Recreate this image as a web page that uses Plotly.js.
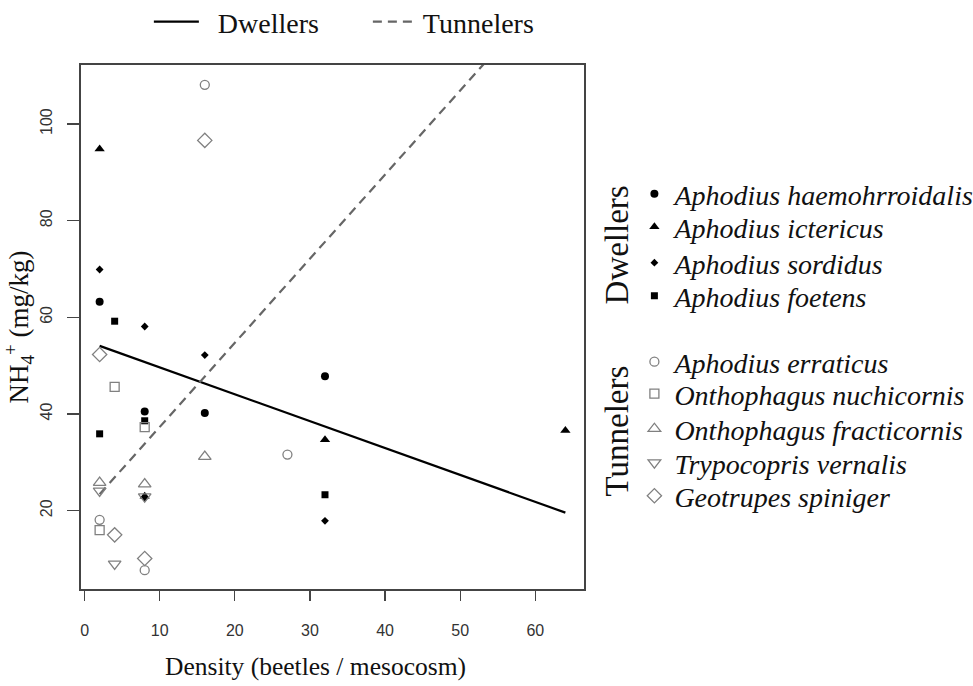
<!DOCTYPE html>
<html>
<head>
<meta charset="utf-8">
<script src="https://cdn.plot.ly/plotly-3.0.1.min.js"></script>
<style>html,body{margin:0;padding:0;background:#fff;}</style>
</head>
<body>
<div id="chart" style="width:973px;height:686px;"></div>
<script>
// ---- Data ----
// Dwellers (filled black symbols)
const haemX = [2, 8, 16, 32];
const haemY = [63.2, 40.5, 40.2, 47.8];
const ictX = [2, 8, 32, 64];
const ictY = [94.8, 23.0, 34.7, 36.6];
const sordX = [2, 8, 8, 16, 32];
const sordY = [69.9, 58.1, 22.6, 52.2, 17.9];
const foetX = [2, 4, 8, 32];
const foetY = [35.9, 59.2, 38.6, 23.3];
// Tunnelers (open grey symbols)
const errX = [2, 8, 16, 27];
const errY = [18.1, 7.7, 108.1, 31.6];
const nuchX = [2, 4, 8];
const nuchY = [16.0, 45.6, 37.3];
const fracX = [2, 8, 16];
const fracY = [25.8, 25.5, 31.2];
const vernX = [2, 4, 8];
const vernY = [24.1, 9.0, 22.9];
const spinX = [2, 4, 8, 16];
const spinY = [52.3, 15.0, 10.1, 96.6];
// Regression lines (endpoints)
const dwellLineX = [2, 64];
const dwellLineY = [54.1, 19.6];
const tunnLineX = [2, 64];
const tunnLineY = [23.4, 131.3];

const xTicks = [0, 10, 20, 30, 40, 50, 60];
const yTicks = [20, 40, 60, 80, 100];

const BLACK = '#000000';
const GREY = '#808080';

// legend row centres (px from top) for the species key
const legendRowY = [194, 227, 263, 296, 362, 394, 429, 463, 496];

let legendCount = 1;
function nextLegend() { legendCount += 1; return 'legend' + legendCount; }

function dweller(name, x, y, symbol, size) {
  return {type: 'scatter', mode: 'markers', name: name, x: x, y: y, legend: nextLegend(),
    marker: {symbol: symbol, size: size, color: BLACK, line: {width: 0}}, cliponaxis: false};
}
function tunneler(name, x, y, symbol, size) {
  return {type: 'scatter', mode: 'markers', name: name, x: x, y: y, legend: nextLegend(),
    marker: {symbol: symbol, size: size, color: GREY, line: {width: 1.3, color: GREY}}, cliponaxis: false};
}

const traces = [
  {type: 'scatter', mode: 'lines', name: '\u00a0\u00a0Dwellers', x: dwellLineX, y: dwellLineY, legend: 'legend',
    line: {color: '#000', width: 2.2}},
  {type: 'scatter', mode: 'lines', name: 'Tunnelers', x: tunnLineX, y: tunnLineY, legend: 'legend',
    line: {color: '#666', width: 2.2, dash: '9px,6px'}},
  dweller('Aphodius haemohrroidalis', haemX, haemY, 'circle', 8),
  dweller('Aphodius ictericus', ictX, ictY, 'triangle-up', 9),
  dweller('Aphodius sordidus', sordX, sordY, 'diamond', 6),
  dweller('Aphodius foetens', foetX, foetY, 'square', 7),
  tunneler('Aphodius erraticus', errX, errY, 'circle-open', 9),
  tunneler('Onthophagus nuchicornis', nuchX, nuchY, 'square-open', 9),
  tunneler('Onthophagus fracticornis', fracX, fracY, 'triangle-up-open', 11),
  tunneler('Trypocopris vernalis', vernX, vernY, 'triangle-down-open', 11),
  tunneler('Geotrupes spiniger', spinX, spinY, 'diamond-open', 11)
];

const serif = 'Liberation Serif, Times New Roman, serif';
const sans = 'Liberation Sans, Arial, sans-serif';

const layout = {
  width: 973, height: 686,
  margin: {l: 81, r: 389, t: 65, b: 97},
  paper_bgcolor: '#fff', plot_bgcolor: '#fff',
  showlegend: true,
  xaxis: {
    range: [-0.48, 66.48], tickvals: xTicks, ticktext: xTicks.map(String),
    showgrid: false, zeroline: false, showline: true, mirror: true,
    linecolor: '#444', linewidth: 1.6, ticks: 'outside', ticklen: 10, tickwidth: 1.2, tickcolor: '#444',
    tickfont: {family: sans, size: 16, color: '#333'}, ticklabelstandoff: 16
  },
  yaxis: {
    range: [3.8, 112.2], tickvals: yTicks, ticktext: yTicks.map(String), tickangle: -90,
    showgrid: false, zeroline: false, showline: true, mirror: true,
    linecolor: '#444', linewidth: 1.6, ticks: 'outside', ticklen: 12, tickwidth: 1.2, tickcolor: '#444',
    tickfont: {family: sans, size: 16, color: '#333'}, ticklabelstandoff: 9,
    title: {text: 'NH<sub>4</sub><sup>+</sup> (mg/kg)', font: {family: serif, size: 27, color: '#111'}, standoff: 10}
  },
  legend: {
    orientation: 'h', xref: 'container', yref: 'container', x: 0.153, y: 0.968,
    xanchor: 'left', yanchor: 'middle', bgcolor: 'rgba(0,0,0,0)', itemwidth: 45,
    font: {family: serif, size: 28, color: '#111'}, entrywidth: 159
  },
  annotations: [
    {text: 'Density (beetles / mesocosm)', xref: 'paper', yref: 'paper', x: 0.467, y: -0.147,
      xanchor: 'center', yanchor: 'middle', showarrow: false,
      font: {family: serif, size: 25.5, color: '#111'}},
    {text: 'Dwellers', xref: 'paper', yref: 'paper', x: 1.066, y: 0.656, textangle: -90,
      xanchor: 'center', yanchor: 'middle',
      showarrow: false, font: {family: serif, size: 33, color: '#111'}},
    {text: 'Tunnelers', xref: 'paper', yref: 'paper', x: 1.066, y: 0.301, textangle: -90,
      xanchor: 'center', yanchor: 'middle',
      showarrow: false, font: {family: serif, size: 33, color: '#111'}}
  ]
};

legendRowY.forEach(function (py, i) {
  layout['legend' + (i + 2)] = {
    xref: 'container', yref: 'container', x: 0.652, y: 1 - py / 686,
    xanchor: 'left', yanchor: 'middle', bgcolor: 'rgba(0,0,0,0)',
    font: {family: serif, size: 28, color: '#111', style: 'italic'}
  };
});

Plotly.newPlot('chart', traces, layout, {displayModeBar: false, staticPlot: true});
</script>
</body>
</html>
